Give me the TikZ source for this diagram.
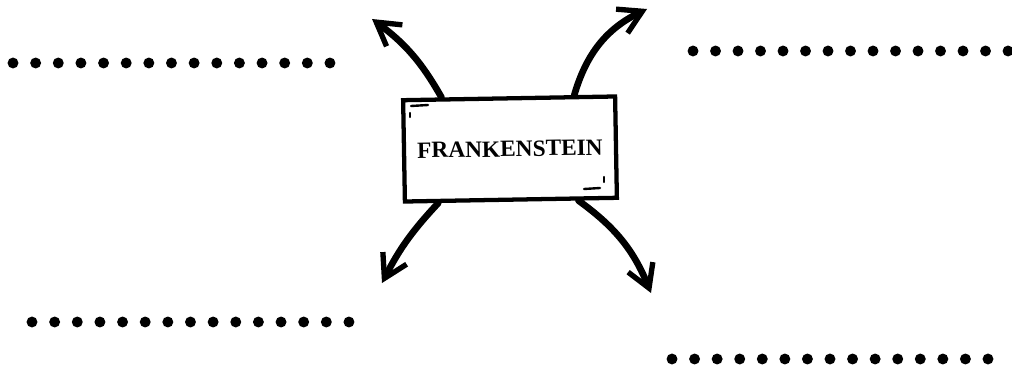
\documentclass[tikz,border=0pt]{standalone}
\usepackage{fontspec}
\usepackage{tikz}
\usetikzlibrary{arrows.meta, positioning, calc}
\newfontfamily\titlefont{Liberation Serif}

\begin{document}
\begin{tikzpicture}[
  x=0.75pt, y=0.75pt,
  titlebox/.style={rectangle, draw=black, line width=3.2pt, fill=white, minimum width=159pt, minimum height=76pt, rotate=1, font=\titlefont\fontsize{17.5}{20}\selectfont\bfseries},
  arrow/.style={-{Straight Barb[length=17pt, width=20pt, line width=4pt]}, line width=5pt, line cap=round},
  cornermark/.style={line width=1.8pt, line cap=round},
  dot/.style={fill=black}
]
  \useasboundingbox (0,0) rectangle (1012,-370);

  % dotted writing lines
  \foreach \i in {0,...,14} {
    \fill[dot] (13+22.64*\i,-63) circle[radius=4.1pt];
    \fill[dot] (693+22.5*\i,-51) circle[radius=4.1pt];
    \fill[dot] (32+22.64*\i,-322) circle[radius=4.1pt];
    \fill[dot] (672+22.57*\i,-359) circle[radius=4.1pt];
  }

  \coordinate (tipnw) at (372,-19);
  \coordinate (tipne) at (647,-9);
  \coordinate (tipsw) at (382,-283);
  \coordinate (tipse) at (651,-293);

  \node[titlebox] (title) at (510,-149) {FRANKENSTEIN};

  \draw[arrow] (title.142) to[bend right=12] (tipnw);
  \draw[arrow] (title.39) to[bend left=24] (tipne);
  \draw[arrow] (title.216) to[bend right=8] (tipsw);
  \draw[arrow] (title.322) to[bend left=16] (tipse);

  % corner marks
  \draw[cornermark] (411,-106) -- (428,-105);
  \draw[cornermark] (410,-113) -- (410,-117);
  \draw[cornermark] (584,-189) -- (600,-188);
  \draw[cornermark] (604,-177) -- (604,-182);
\end{tikzpicture}
\end{document}
